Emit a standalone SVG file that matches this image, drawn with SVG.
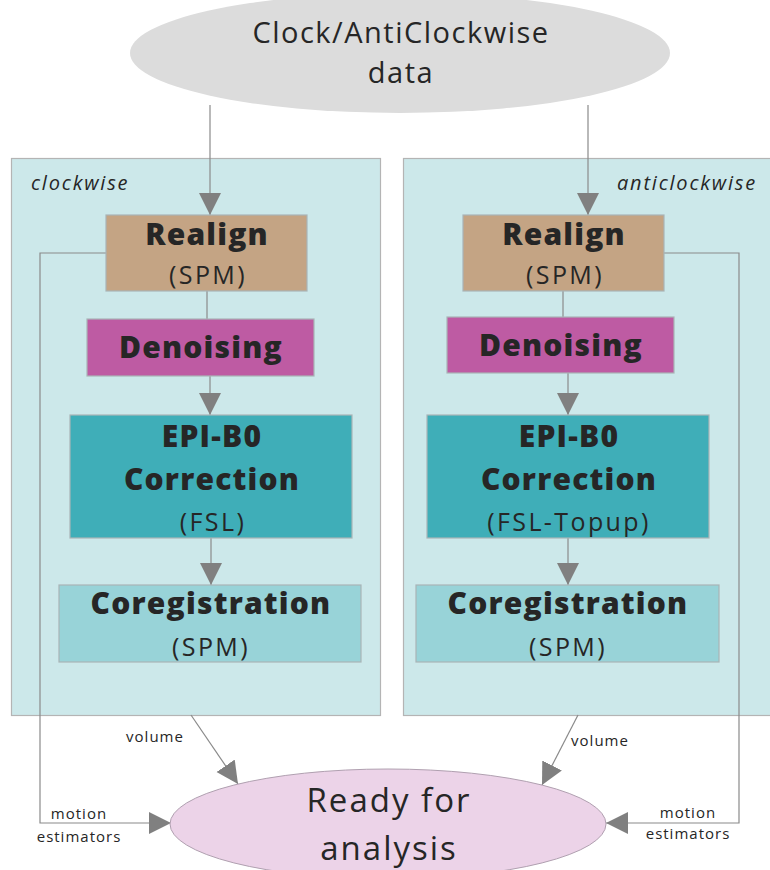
<svg xmlns="http://www.w3.org/2000/svg" width="770" height="870" viewBox="0 0 770 870">
  <style>
    .panel { fill: #cce8ea; stroke: #b4b4b4; stroke-width: 1.2; }
    .box { stroke: #a9b4b6; stroke-width: 1.2; }
    .title { font-family: "Open Sans", "DejaVu Sans", sans-serif; font-weight: 800; font-size: 30px; letter-spacing: 1.2px; fill: #262626; text-anchor: middle; }
    .sub { font-family: "Open Sans", "DejaVu Sans", sans-serif; font-size: 25px; letter-spacing: 2.4px; fill: #262626; text-anchor: middle; }
    .big { font-family: "Open Sans", "DejaVu Sans", sans-serif; font-size: 29px; letter-spacing: 1.5px; fill: #262626; text-anchor: middle; }
    .huge { font-family: "Open Sans", "DejaVu Sans", sans-serif; font-size: 33px; letter-spacing: 2px; fill: #262626; text-anchor: middle; }
    .side { font-family: "Open Sans", "DejaVu Sans", sans-serif; font-style: italic; font-size: 20px; letter-spacing: 1.8px; fill: #262626; }
    .lbl { font-family: "Open Sans", "DejaVu Sans", sans-serif; font-size: 15px; letter-spacing: 1px; fill: #262626; text-anchor: middle; }
    .edge { fill: none; stroke: #8a8a8a; stroke-width: 1.2; }
  </style>
  <defs>
    <marker id="arrow" markerUnits="userSpaceOnUse" markerWidth="24" markerHeight="24" viewBox="0 0 24 24" refX="22" refY="12" orient="auto">
      <path d="M0,1 L22,12 L0,23 Z" fill="#808080"/>
    </marker>
  </defs>

  <!-- pipeline panels -->
  <g id="panel-clockwise">
    <rect class="panel" x="11.5" y="158.5" width="369" height="557"/>
    <text class="side" x="31" y="190">clockwise</text>
  </g>
  <g id="panel-anticlockwise">
    <rect class="panel" x="403.5" y="158.5" width="372" height="557"/>
    <text class="side" x="757" y="190" text-anchor="end">anticlockwise</text>
  </g>

  <!-- source data -->
  <g id="source">
    <ellipse cx="400" cy="53" rx="270" ry="60" fill="#dcdcdc"/>
    <text class="big" x="401" y="43">Clock/AntiClockwise</text>
    <text class="big" x="401" y="83">data</text>
  </g>

  <!-- connectors -->
  <g id="connectors">
    <path class="edge" d="M210,105 V215" marker-end="url(#arrow)"/>
    <path class="edge" d="M588,105 V215" marker-end="url(#arrow)"/>
    <path class="edge" d="M207,291 V319"/>
    <path class="edge" d="M563,291 V317"/>
    <path class="edge" d="M210,376 V415" marker-end="url(#arrow)"/>
    <path class="edge" d="M568,373 V415" marker-end="url(#arrow)"/>
    <path class="edge" d="M211,538 V585" marker-end="url(#arrow)"/>
    <path class="edge" d="M568,538 V585" marker-end="url(#arrow)"/>
    <path class="edge" d="M106,253 H40 V823 H171" marker-end="url(#arrow)"/>
    <path class="edge" d="M664,253 H739 V823 H606" marker-end="url(#arrow)"/>
    <path class="edge" d="M191,715 L238,784" marker-end="url(#arrow)"/>
    <path class="edge" d="M578,715 L542,785" marker-end="url(#arrow)"/>
    <text class="lbl" x="155" y="742">volume</text>
    <text class="lbl" x="600" y="746">volume</text>
    <text class="lbl" x="79" y="819">motion</text>
    <text class="lbl" x="79" y="842">estimators</text>
    <text class="lbl" x="688" y="818">motion</text>
    <text class="lbl" x="688" y="839">estimators</text>
  </g>

  <!-- clockwise steps -->
  <g id="realign-cw">
    <rect class="box" x="106" y="215" width="201" height="76" fill="#c4a484"/>
    <text class="title" x="207" y="245">Realign</text>
    <text class="sub" x="208" y="284">(SPM)</text>
  </g>
  <g id="denoise-cw">
    <rect class="box" x="87" y="319" width="227" height="57" fill="#be5ba3"/>
    <text class="title" x="201" y="358">Denoising</text>
  </g>
  <g id="epi-cw">
    <rect class="box" x="70" y="415" width="282" height="123" fill="#3faeb8"/>
    <text class="title" x="212" y="447">EPI-B0</text>
    <text class="title" x="212" y="490">Correction</text>
    <text class="sub" x="213" y="531">(FSL)</text>
  </g>
  <g id="coreg-cw">
    <rect class="box" x="59" y="585" width="302" height="77" fill="#98d3d8"/>
    <text class="title" x="211" y="614">Coregistration</text>
    <text class="sub" x="211" y="656">(SPM)</text>
  </g>

  <!-- anticlockwise steps -->
  <g id="realign-acw">
    <rect class="box" x="463" y="215" width="201" height="76" fill="#c4a484"/>
    <text class="title" x="564" y="245">Realign</text>
    <text class="sub" x="565" y="284">(SPM)</text>
  </g>
  <g id="denoise-acw">
    <rect class="box" x="447" y="317" width="227" height="56" fill="#be5ba3"/>
    <text class="title" x="561" y="356">Denoising</text>
  </g>
  <g id="epi-acw">
    <rect class="box" x="427" y="415" width="282" height="123" fill="#3faeb8"/>
    <text class="title" x="569" y="447">EPI-B0</text>
    <text class="title" x="569" y="490">Correction</text>
    <text class="sub" x="569" y="531">(FSL-Topup)</text>
  </g>
  <g id="coreg-acw">
    <rect class="box" x="416" y="585" width="303" height="77" fill="#98d3d8"/>
    <text class="title" x="568" y="614">Coregistration</text>
    <text class="sub" x="568" y="656">(SPM)</text>
  </g>

  <!-- result -->
  <g id="ready">
    <ellipse cx="388" cy="824" rx="218" ry="55" fill="#ecd3e8" stroke="#b0a0b0" stroke-width="1"/>
    <text class="huge" x="389" y="812">Ready for</text>
    <text class="huge" x="389" y="860">analysis</text>
  </g>
</svg>
